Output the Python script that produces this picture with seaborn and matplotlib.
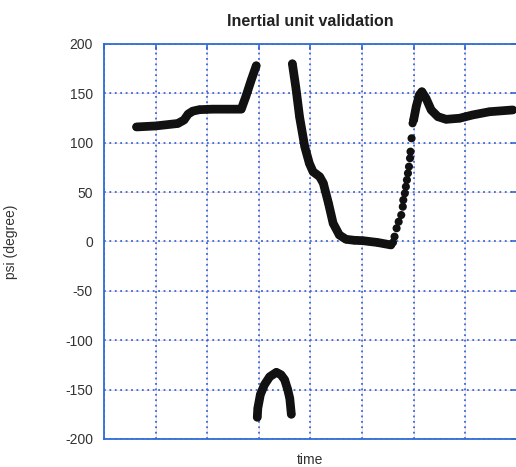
import numpy as np
import pandas as pd
import matplotlib
matplotlib.use("Agg")
import matplotlib.pyplot as plt
import seaborn as sns

# heading estimate, split where the angle wraps at +/-180
seg1_t = [0.63, 1.0, 1.43, 1.55, 1.63, 1.72, 1.85, 2.1, 2.4, 2.66, 2.75, 2.85, 2.95]
seg1_psi = [116, 117, 119.5, 123, 129, 132, 133.5, 134, 134, 134, 147, 163, 178]

seg2_t = [2.97, 2.98, 3.03, 3.11, 3.21, 3.34, 3.43, 3.50, 3.56, 3.60, 3.63]
seg2_psi = [-178, -169, -155, -145, -137, -132.5, -135, -140, -150, -159, -175]

seg3_t = [3.65, 3.72, 3.79, 3.89, 3.98, 4.05, 4.18, 4.25, 4.35, 4.44, 4.56, 4.69,
          4.85, 5.02, 5.3, 5.56]
seg3_psi = [180, 155, 126, 96, 79, 70.7, 65.6, 59, 38.7, 18.4, 6.6, 2.2,
            1.2, 0.8, -1, -3.5]

# sparse samples on the fast climb back up
seg4_t = [5.60, 5.63, 5.67, 5.71, 5.76, 5.79, 5.80, 5.83, 5.85, 5.87, 5.89, 5.91,
          5.93, 5.94, 5.96, 5.98, 6.0]
seg4_psi = [-1, 4.9, 13.4, 20.0, 26.8, 35.2, 42.0, 48.8, 55.5, 62.3, 69.1, 75.8,
            84.3, 91.0, 104.5, 119.7, 123]

seg5_t = [6.0, 6.05, 6.11, 6.16, 6.24, 6.34, 6.47, 6.63, 6.89, 7.14, 7.47, 7.92]
seg5_psi = [123, 136.5, 148.4, 151.7, 145, 133.2, 126.4, 123.7, 124.8, 128.1, 131.4, 133.2]

yticks = [-200, -150, -100, -50, 0, 50, 100, 150, 200]

sns.set_style("white")
plt.rcParams["font.family"] = ["Liberation Sans", "DejaVu Sans"]
plt.rcParams["axes.unicode_minus"] = False

blue = "#2f6bd6"
fig = plt.figure(figsize=(5.16, 4.67), dpi=100)
ax = fig.add_axes([0.2016, 0.060, 0.80, 0.8458])

ax.set_xlim(0, 8)
ax.set_ylim(-200, 200)
ax.set_xticks(np.arange(0, 9, 1))
ax.set_yticks(yticks)

# faint pink underlay then blue dotted grid
for x in range(1, 8):
    ax.axvline(x, color="#f8dcea", lw=0.7, zorder=0)
for y in yticks[1:-1]:
    ax.axhline(y, color="#f8dcea", lw=0.7, zorder=0)
ax.grid(True, color=blue, linestyle=(0, (1, 2)), lw=1.3, zorder=1)

for t, p in [(seg1_t, seg1_psi), (seg2_t, seg2_psi), (seg3_t, seg3_psi), (seg5_t, seg5_psi)]:
    df = pd.DataFrame({"t": t, "psi": p})
    sns.lineplot(data=df, x="t", y="psi", sort=False, estimator=None, ax=ax,
                 color="#111111", lw=6.3, solid_capstyle="round", solid_joinstyle="round", zorder=3)
    sns.scatterplot(data=df, x="t", y="psi", ax=ax, color="#111111", s=32,
                    edgecolor="none", zorder=4)

df4 = pd.DataFrame({"t": seg4_t, "psi": seg4_psi})
sns.scatterplot(data=df4, x="t", y="psi", ax=ax, color="#111111", s=34,
                edgecolor="none", zorder=4)

for s in ax.spines.values():
    s.set_color(blue)
    s.set_linewidth(1.3)

ax.tick_params(axis="both", direction="in", colors=blue, length=4, width=1.2,
               labelcolor="#333333", labelsize=10, pad=8)
ax.tick_params(axis="y", right=True)
ax.tick_params(axis="x", top=True, labelbottom=False)

ax.set_title("Inertial unit validation", fontsize=11.5, fontweight="bold", color="#222222", pad=13)
ax.set_xlabel("time", fontsize=10, color="#333333", labelpad=10)
ax.set_ylabel("psi (degree)", fontsize=10, color="#333333")
ax.yaxis.set_label_coords(-0.209, 0.5)

fig.savefig("out.png", dpi=100)
